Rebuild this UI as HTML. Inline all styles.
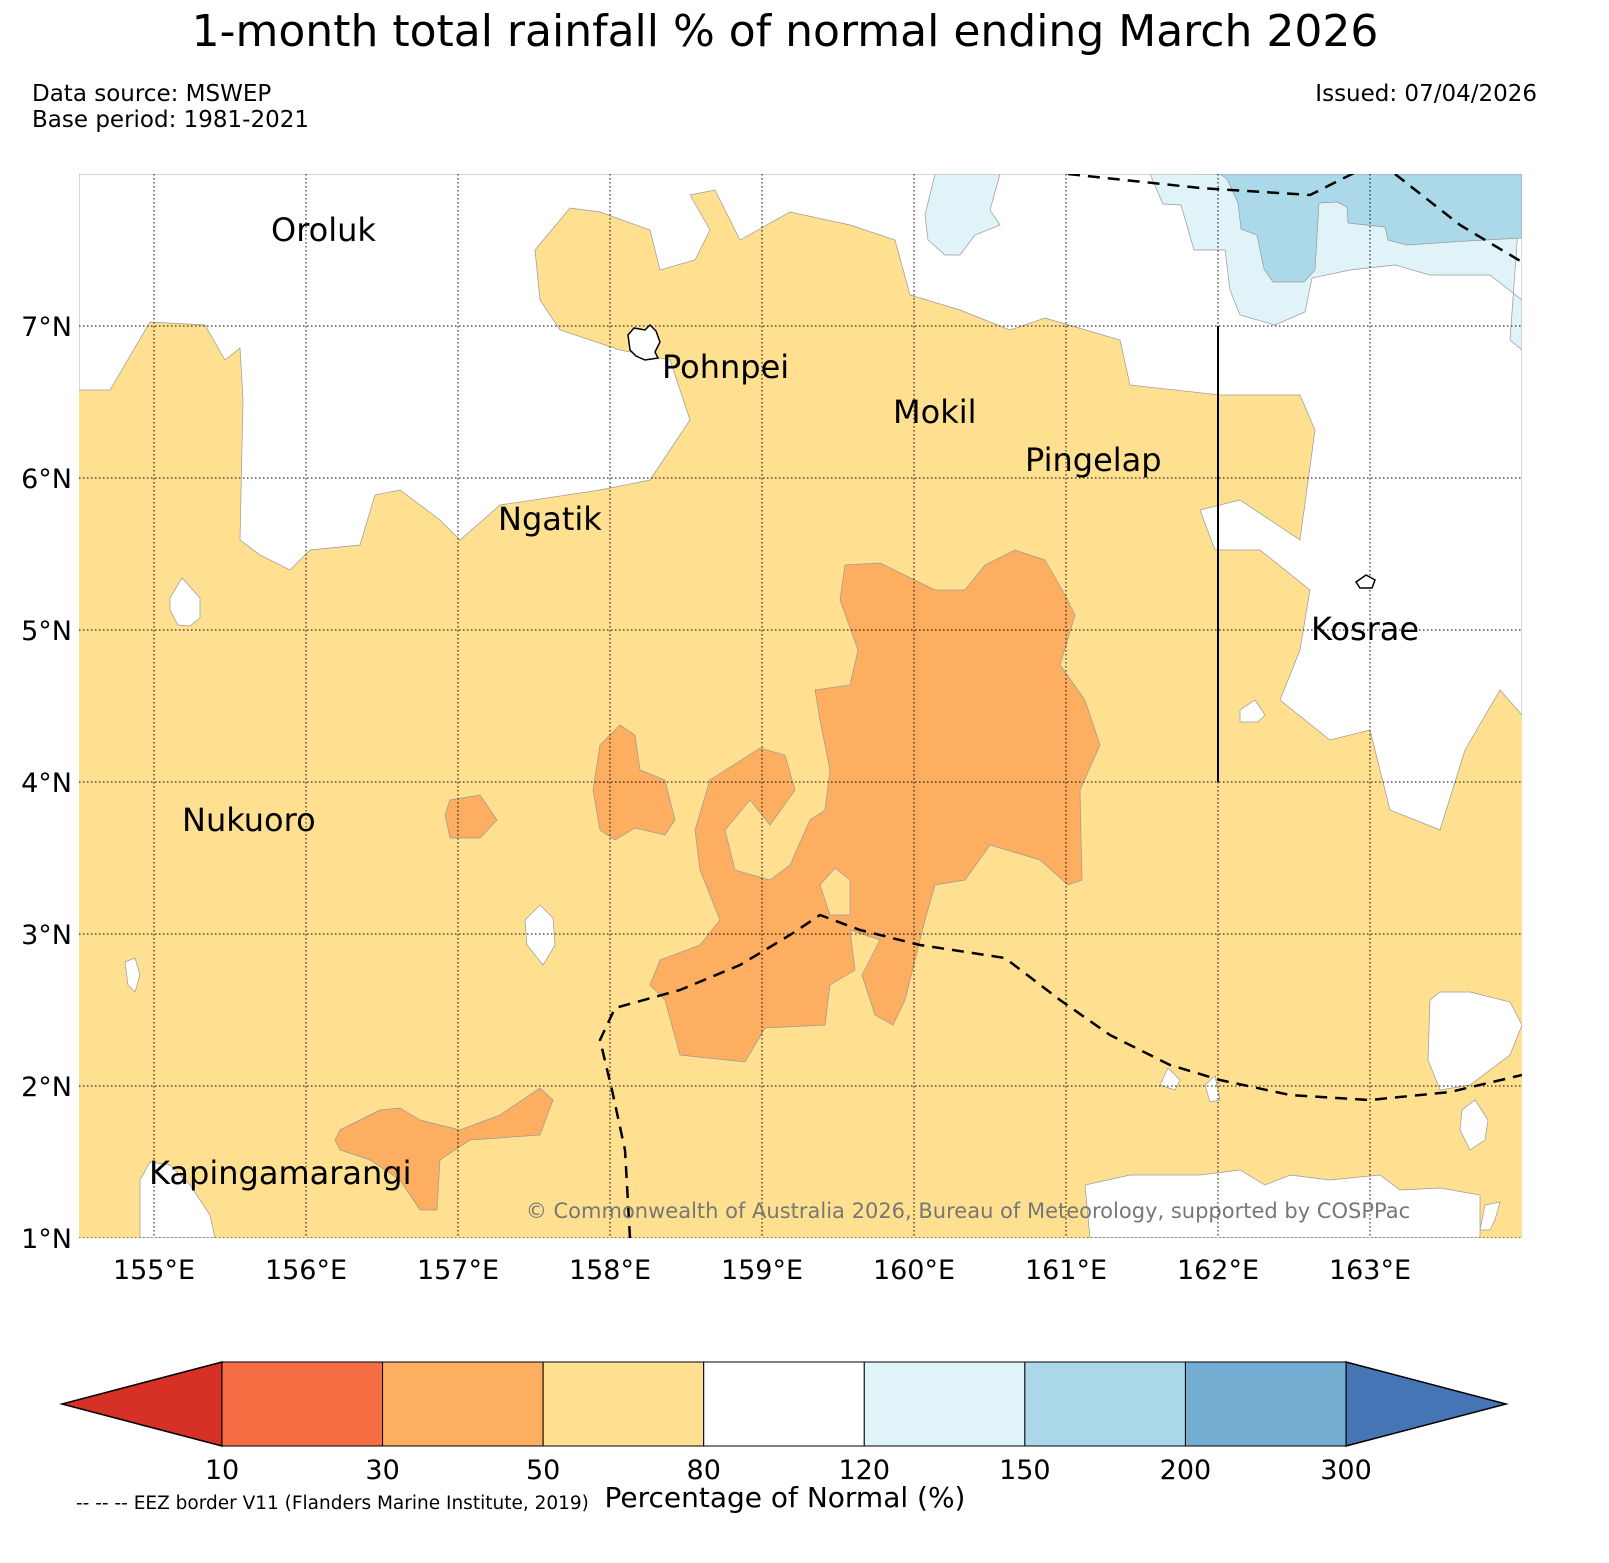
<!DOCTYPE html>
<html><head><meta charset="utf-8"><style>
html,body{margin:0;padding:0;background:#fff;overflow:hidden;font-family:"Liberation Sans","DejaVu Sans",sans-serif}
svg{display:block}
svg text{font-family:"DejaVu Sans","Liberation Sans",sans-serif}
</style></head><body>
<svg id="chart" width="1609" height="1563" viewBox="0 0 1609 1563" xmlns="http://www.w3.org/2000/svg">
<rect width="1609" height="1563" fill="#fff"/>
<text x="785" y="46" font-size="44" text-anchor="middle">1-month total rainfall % of normal ending March 2026</text>
<text x="32" y="101" font-size="23">Data source: MSWEP</text>
<text x="32" y="127" font-size="23">Base period: 1981-2021</text>
<text x="1537" y="101" font-size="23" text-anchor="end">Issued: 07/04/2026</text>
<defs><clipPath id="mc"><rect x="79" y="174" width="1443" height="1064"/></clipPath></defs>
<g id="map" clip-path="url(#mc)">
<rect x="79" y="174" width="1443" height="1064" fill="#fee090"/>
<path fill="#fff" stroke="#999" stroke-width="0.7" d="M79,174 L79,390 L110,390 L150,322 L205,325 L225,360 L240,348 L243,400 L240,540 L260,555 L290,570 L310,550 L360,545 L375,495 L400,490 L440,520 L460,540 L500,505 L600,490 L650,480 L690,420 L670,360 L620,350 L560,330 L540,300 L535,250 L570,208 L600,212 L650,230 L660,270 L695,260 L710,230 L690,195 L715,190 L740,240 L790,212 L850,225 L895,240 L910,295 L960,310 L1010,330 L1045,318 L1120,340 L1130,385 L1220,395 L1300,395 L1315,430 L1300,540 L1240,500 L1200,510 L1215,550 L1260,550 L1310,590 L1300,650 L1280,700 L1330,740 L1370,730 L1390,810 L1440,830 L1465,750 L1500,690 L1522,715 L1522,174 Z"/>
<path fill="#e0f3f8" stroke="#999" stroke-width="0.7" d="M1150,174 L1163,204 L1181,205 L1194,250 L1225,250 L1230,290 L1240,315 L1275,325 L1305,312 L1312,278 L1350,270 L1395,265 L1430,275 L1490,275 L1522,300 L1522,350 L1510,340 L1522,174 Z"/>
<path fill="#e0f3f8" stroke="#999" stroke-width="0.7" d="M935,174 L1000,174 L990,210 L1000,225 L975,235 L960,255 L945,255 L928,240 L925,215 Z"/>
<path fill="#abd9e9" stroke="#999" stroke-width="0.7" d="M1193,174 L1220,174 L1227,179 L1238,203 L1241,229 L1257,235 L1264,269 L1273,282 L1304,282 L1315,270 L1319,203 L1337,202 L1347,207 L1348,223 L1385,227 L1388,240 L1407,245 L1467,241 L1522,238 L1522,174 Z"/>
<g fill="#fff" stroke="#999" stroke-width="0.7">
<path d="M170,598 L182,578 L200,598 L200,618 L190,626 L178,625 L170,610 Z"/>
<path d="M525,920 L540,905 L553,918 L555,945 L543,965 L527,945 Z"/>
<path d="M125,962 L135,958 L140,975 L135,992 L128,985 Z"/>
<path d="M1430,1000 L1440,992 L1470,992 L1510,1002 L1522,1025 L1510,1055 L1490,1070 L1470,1085 L1440,1090 L1428,1060 Z"/>
<path d="M1090,1238 L1085,1185 L1130,1175 L1200,1175 L1240,1170 L1265,1185 L1290,1175 L1330,1180 L1380,1175 L1400,1190 L1440,1188 L1480,1195 L1480,1238 Z"/>
<path d="M140,1238 L140,1180 L150,1162 L170,1165 L190,1185 L210,1215 L215,1238 Z"/>
<path d="M1240,710 L1255,700 L1265,715 L1258,722 L1240,722 Z"/>
<path d="M1160,1085 L1168,1068 L1180,1080 L1175,1090 Z"/>
<path d="M1205,1085 L1215,1076 L1220,1100 L1210,1102 Z"/>
<path d="M1462,1110 L1475,1100 L1488,1120 L1485,1140 L1470,1150 L1460,1130 Z"/>
<path d="M1480,1230 L1485,1205 L1500,1202 L1495,1220 L1490,1230 Z"/>
</g>
<path fill="#fdae61" stroke="#999" stroke-width="0.7" d="M845,565 L880,563 L935,590 L965,590 L985,565 L1015,550 L1045,560 L1065,595 L1075,615 L1060,665 L1085,700 L1100,745 L1080,790 L1082,880 L1068,885 L1040,860 L990,845 L965,880 L935,885 L925,920 L905,1000 L893,1025 L875,1015 L862,975 L880,940 L850,930 L855,970 L830,985 L825,1025 L765,1028 L745,1062 L680,1055 L665,1000 L650,985 L660,960 L700,945 L720,920 L700,870 L695,830 L710,780 L760,748 L785,755 L795,790 L770,825 L750,800 L725,830 L735,870 L770,880 L790,865 L810,820 L825,810 L830,770 L820,720 L815,690 L850,685 L858,650 L840,600 Z"/>
<path fill="#fee090" stroke="#999" stroke-width="0.7" d="M820,885 L835,868 L850,880 L850,915 L830,915 Z"/>
<path fill="#fdae61" stroke="#999" stroke-width="0.7" d="M600,745 L620,725 L635,735 L640,770 L665,780 L675,820 L665,835 L635,828 L615,840 L600,830 L593,790 Z"/>
<path fill="#fdae61" stroke="#999" stroke-width="0.7" d="M450,800 L480,795 L497,820 L480,838 L450,838 L445,815 Z"/>
<path fill="#fdae61" stroke="#999" stroke-width="0.7" d="M340,1130 L380,1110 L400,1108 L420,1120 L460,1130 L500,1115 L540,1088 L553,1100 L540,1135 L470,1140 L440,1160 L437,1210 L420,1210 L400,1180 L370,1160 L340,1150 L335,1140 Z"/>
<g id="grid"></g>
<g fill="none" stroke="#000" stroke-width="2.5" stroke-dasharray="12,8">
<path d="M1068,174 L1200,188 L1310,195 L1360,170"/>
<path d="M1395,174 L1460,225 L1522,262"/>
<path d="M630,1238 L625,1150 L612,1090 L600,1040 L615,1008 L680,990 L740,965 L790,935 L820,915 L860,930 L920,945 L1005,958 L1060,1000 L1110,1035 L1170,1065 L1220,1080 L1290,1095 L1370,1100 L1450,1092 L1522,1075"/>
</g>
<line x1="1218" y1="326" x2="1218" y2="782" stroke="#000" stroke-width="2"/>
<path d="M628,335 L634,328 L645,330 L650,325 L656,331 L660,342 L655,352 L658,358 L645,360 L636,356 L630,350 Z" fill="#fff" stroke="#000" stroke-width="1.5"/>
<path d="M1356,582 L1366,575 L1375,580 L1372,588 L1360,588 Z" fill="#fff" stroke="#000" stroke-width="1.5"/>
</g>
<g font-size="32">
<text x="271" y="241">Oroluk</text>
<text x="662" y="378">Pohnpei</text>
<text x="893" y="423">Mokil</text>
<text x="1025" y="471">Pingelap</text>
<text x="498" y="530">Ngatik</text>
<text x="1311" y="640">Kosrae</text>
<text x="182" y="831">Nukuoro</text>
<text x="149" y="1184">Kapingamarangi</text>
</g>
<text x="968" y="1218" font-size="21" fill="#777" text-anchor="middle">© Commonwealth of Australia 2026, Bureau of Meteorology, supported by COSPPac</text>
<g id="axes"></g>
<g id="cbar"></g>
<text x="785" y="1507" font-size="28" text-anchor="middle">Percentage of Normal (%)</text>
<text x="76" y="1509" font-size="18.5">-- -- -- EEZ border V11 (Flanders Marine Institute, 2019)</text>
</svg>
<script>
const lonTicks=[155,156,157,158,159,160,161,162,163];
const latTicks=[1,2,3,4,5,6,7];
const cbBounds=["10","30","50","80","120","150","200","300"];
const cbColors=["#f46d43","#fdae61","#fee090","#ffffff","#e0f3f8","#abd9e9","#74add1"];
const ns="http://www.w3.org/2000/svg";
const xLon=l=>154+(l-155)*152;
const yLat=l=>326-(l-7)*152;
function mk(t,a,p){const e=document.createElementNS(ns,t);for(const k in a)e.setAttribute(k,a[k]);p.appendChild(e);return e;}
const grid=document.getElementById('grid'),axes=document.getElementById('axes');
lonTicks.forEach(l=>{
 const g=mk('line',{x1:xLon(l),x2:xLon(l),y1:174,y2:1238,stroke:'#000','stroke-width':1,'stroke-dasharray':'1.5,2.5'},grid);
 
 
 const t=mk('text',{x:xLon(l),y:1279,'font-size':27,'text-anchor':'middle'},axes);
 t.textContent=l+'°E';
 
 
});
latTicks.forEach(l=>{
 const g=mk('line',{x1:79,x2:1522,y1:yLat(l),y2:yLat(l),stroke:'#000','stroke-width':1,'stroke-dasharray':'1.5,2.5'},grid);
 
 
 const t=mk('text',{x:72,y:yLat(l)+10,'font-size':27,'text-anchor':'end'},axes);
 t.textContent=l+'°N';
 
 
});
const cb=document.getElementById('cbar');
const cx0=222,cx1=1346,cy0=1362,cy1=1446,n=cbColors.length,w=(cx1-cx0)/n;
const lt=mk('polygon',{points:`${cx0},${cy0} 62,${(cy0+cy1)/2} ${cx0},${cy1}`,fill:'#d73027',stroke:'#000','stroke-width':1.5},cb);


const rt=mk('polygon',{points:`${cx1},${cy0} 1506,${(cy0+cy1)/2} ${cx1},${cy1}`,fill:'#4575b4',stroke:'#000','stroke-width':1.5},cb);


cbColors.forEach((c,i)=>{
 const r=mk('rect',{x:cx0+i*w,y:cy0,width:w,height:cy1-cy0,fill:c,stroke:'#000','stroke-width':1},cb);
 
 
});
cbBounds.forEach((b,i)=>{
 const t=mk('text',{x:cx0+i*w,y:1479,'font-size':27,'text-anchor':'middle'},cb);
 t.textContent=b;
 
 
});
</script>
</body></html>
